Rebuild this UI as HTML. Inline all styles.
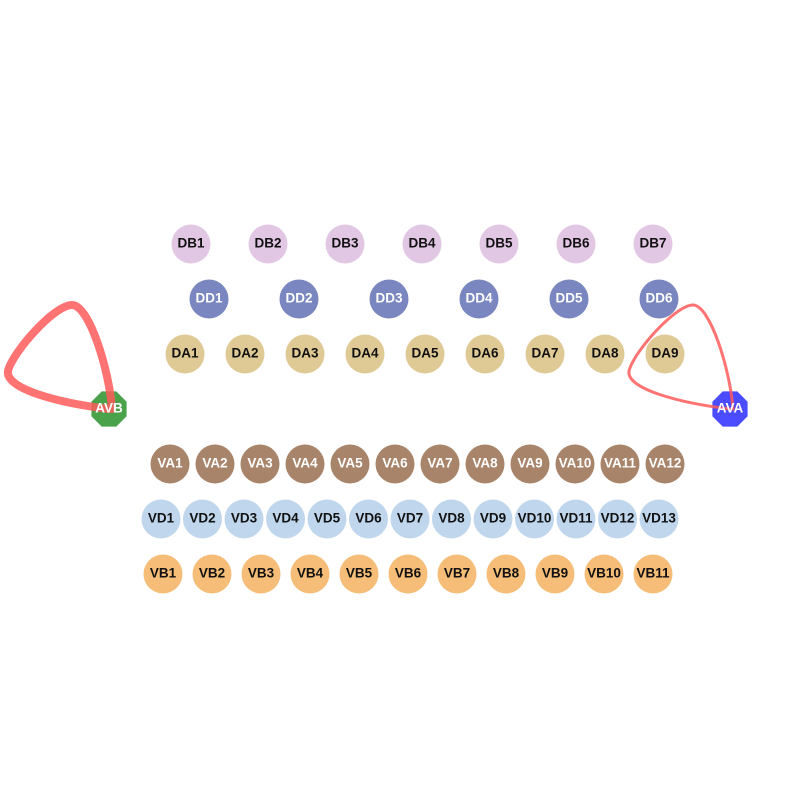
<!DOCTYPE html>
<html><head><meta charset="utf-8"><style>
html,body{margin:0;padding:0;background:#fff;}
svg{display:block;}
text{font-family:"Liberation Sans",sans-serif;font-weight:bold;font-size:13.5px;text-anchor:middle;dominant-baseline:central;}
</style></head><body>
<svg id="chart" width="800" height="800" viewBox="0 0 800 800">
<g id="nodes"></g>
<g id="edges"></g>
<g id="labels"></g>
</svg>
<script>
const groupNames = ['DB','DD','DA','VA','VD','VB'];
const groupCounts = [7,6,9,12,13,11];
const groupRowY = [244,299,354,464,519,574];
const groupStartX = [191,209,185,170,161,163];
const groupStepX = [77,90,60,45,41.5,49];
const groupColors = ['#e2c7e4','#7a86bf','#dfca95','#a8856a','#bfd6ed','#f5bd77'];
const groupTextColors = ['#111','#fff','#111','#fff','#111','#111'];
const hubNames = ['AVB','AVA'];
const hubX = [109,730];
const hubY = [409,409];
const hubColors = ['#4aa24a','#4b4bff'];
const loopWidths = [8,3];

const NS='http://www.w3.org/2000/svg';
const nodesG=document.getElementById('nodes'), edgesG=document.getElementById('edges'), labelsG=document.getElementById('labels');
function mk(tag,attrs,parent){const e=document.createElementNS(NS,tag);for(const k in attrs)e.setAttribute(k,attrs[k]);parent.appendChild(e);return e;}

groupNames.forEach((g,gi)=>{
  for(let i=0;i<groupCounts[gi];i++){
    const x=groupStartX[gi]+i*groupStepX[gi], y=groupRowY[gi];
    const c=mk('circle',{cx:x,cy:y,r:19.5,fill:groupColors[gi]},nodesG);
    
    
    const t=mk('text',{x:x,y:y-1,fill:groupTextColors[gi]},labelsG);
    t.textContent=g+(i+1);
    
    
  }
});

hubNames.forEach((h,hi)=>{
  const cx=hubX[hi], cy=hubY[hi], r=19;
  let pts=[];
  for(let k=0;k<8;k++){const a=Math.PI/8+k*Math.PI/4;pts.push((cx+r*Math.cos(a)).toFixed(1)+','+(cy+r*Math.sin(a)).toFixed(1));}
  const p=mk('polygon',{points:pts.join(' '),fill:hubColors[hi]},nodesG);
  
  
  const d=`M${cx},${cy} C${cx-50},${cy-6} ${cx-104},${cy-20} ${cx-101},${cy-38} C${cx-97},${cy-56} ${cx-55},${cy-104} ${cx-37},${cy-104} C${cx-20},${cy-104} ${cx},${cy-40} ${cx+3},${cy}`;
  const l=mk('path',{d:d,fill:'none',stroke:'#ff5a5a','stroke-opacity':0.85,'stroke-width':loopWidths[hi],'stroke-linecap':'round'},edgesG);
  
  
  const t=mk('text',{x:cx,y:cy-1,fill:'#fff'},labelsG);
  t.textContent=h;
  
  
});
</script>
</body></html>
